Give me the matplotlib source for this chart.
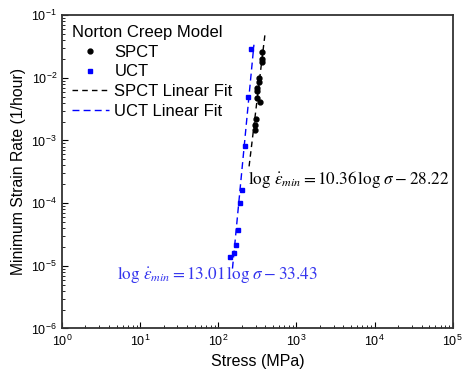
import numpy as np
import matplotlib.pyplot as plt

plt.rcParams['font.family'] = ['Liberation Sans', 'DejaVu Sans']
plt.rcParams['mathtext.fontset'] = 'stix'

# SPCT data (stress MPa, min strain rate 1/hour)
spct_stress = [358, 361, 368, 333, 331, 309, 314, 309, 347, 303, 297, 294]
spct_rate = [0.0254, 0.0199, 0.0176, 0.0101, 0.0086, 0.0068, 0.0062, 0.0047, 0.0041, 0.00217, 0.00176, 0.00147]

# UCT data
uct_stress = [262, 240, 221, 201, 191, 179, 170, 160, 140]
uct_rate = [0.0284, 0.00487, 8.2e-4, 1.62e-4, 9.9e-5, 3.72e-5, 2.15e-5, 1.58e-5, 1.40e-5]

# linear fit in log-log space: log(rate) = n*log(stress) + b
spct_fit = (10.36, -28.22)
uct_fit = (13.01, -33.43)
spct_fit_range = [248, 400]
uct_fit_range = [152, 286]

fig = plt.figure(figsize=(4.62, 3.78), dpi=100)
ax = fig.add_axes([0.134, 0.131, 0.846, 0.829])

ax.plot(spct_stress, spct_rate, 'o', color='black', markersize=3.5, label='SPCT')
ax.plot(uct_stress, uct_rate, 's', color='blue', markersize=2.5, label='UCT')

s = np.logspace(np.log10(spct_fit_range[0]), np.log10(spct_fit_range[1]), 20)
ax.plot(s, 10 ** (spct_fit[0] * np.log10(s) + spct_fit[1]), '--', color='black',
        linewidth=1, dashes=(4, 3), label='SPCT Linear Fit')
s = np.logspace(np.log10(uct_fit_range[0]), np.log10(uct_fit_range[1]), 20)
ax.plot(s, 10 ** (uct_fit[0] * np.log10(s) + uct_fit[1]), '--', color='blue',
        linewidth=1, dashes=(5, 3), label='UCT Linear Fit')

ax.set_xscale('log')
ax.set_yscale('log')
ax.set_xlim(1, 1e5)
ax.set_ylim(1e-6, 1e-1)
ax.set_xlabel('Stress (MPa)', fontsize=11.5)
ax.set_ylabel('Minimum Strain Rate (1/hour)', fontsize=11.3)
ax.tick_params(which='both', direction='in', top=False, right=False, labelsize=9)
ax.tick_params(which='major', length=4)
ax.tick_params(which='minor', length=2)
for sp in ax.spines.values():
    sp.set_linewidth(1.3)
    sp.set_color('#333333')

ax.text(0.476, 0.477, r'$\log\,\dot{\varepsilon}_{min} = 10.36\,\log\,\sigma - 28.22$',
        transform=ax.transAxes, fontsize=12.3, color='black', va='center')
ax.text(0.141, 0.171, r'$\log\,\dot{\varepsilon}_{min} = 13.01\,\log\,\sigma - 33.43$',
        transform=ax.transAxes, fontsize=12.3, color='#3333ee', va='center')

leg = ax.legend(title='Norton Creep Model', loc='upper left', frameon=False, fontsize=12,
                title_fontsize=12, handlelength=2.2, handletextpad=0.35,
                borderaxespad=0.2, labelspacing=0.28)
leg._legend_box.align = 'left'

fig.savefig('out.png', dpi=100)
